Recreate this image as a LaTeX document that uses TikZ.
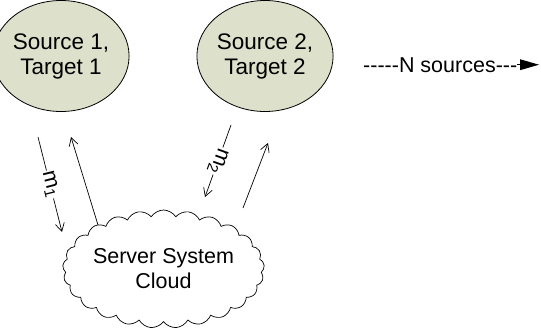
\documentclass[tikz,border=0pt]{standalone}
\usepackage{fontspec}
\setmainfont{Liberation Sans}[Ligatures=TeXOff]
\usetikzlibrary{shapes.geometric,shapes.symbols,arrows.meta}
\definecolor{srcfill}{RGB}{221,224,202}
\tikzset{
  lbl/.style={font=\fontsize{21.5}{25}\selectfont, align=center},
  srcnode/.style={lbl, font=\fontsize{22.5}{25}\selectfont, ellipse, draw=black, line width=0.8pt, fill=srcfill,
    minimum width=119pt, minimum height=111pt, inner sep=0pt},
  cloudnode/.style={lbl, cloud, draw=black, line width=0.7pt, cloud puffs=25,
    cloud puff arc=115, cloud ignores aspect, minimum width=177pt,
    minimum height=118pt, inner sep=0pt},
  msg/.style={line width=0.7pt, -{Straight Barb[length=8pt,width=9pt,line width=0.7pt]}},
  mlabel/.style={font=\fontsize{21.5}{25}\selectfont, midway, sloped, allow upside down,
    fill=white, inner sep=1pt}
}
\begin{document}
\begin{tikzpicture}[x=1pt,y=-1pt]
\useasboundingbox (0,0) rectangle (541,333);
\node[srcnode] (s1) at (61,56) {Source 1,\\Target 1};
\node[srcnode] (s2) at (265,56) {Source 2,\\Target 2};
\node[cloudnode] (srv) at (163.5,269) {Server System\\Cloud};
\node[lbl, anchor=base west, inner sep=0pt] (ns) at (363,72) {-----N sources---};
\coordinate (nt) at (539,64.5);
\draw[-{Triangle[length=19pt,width=11pt]}, line width=0pt] (ns.east) -- (ns.east -| nt);
% message arrows
\coordinate (a1s) at (38,137);
\coordinate (a1e) at (62,232);
\coordinate (b1s) at (98,225);
\coordinate (b1e) at (71,137);
\coordinate (a2s) at (231,125);
\coordinate (a2e) at (205,197);
\coordinate (b2s) at (243,208);
\coordinate (b2e) at (268,143);
\draw[msg] (a1s) -- (a1e) node[mlabel] {m\textsubscript{1}};
\draw[msg] (b1s) -- (b1e);
\draw[msg] (a2s) -- (a2e) node[mlabel] {m\textsubscript{2}};
\draw[msg] (b2s) -- (b2e);
\end{tikzpicture}
\end{document}
